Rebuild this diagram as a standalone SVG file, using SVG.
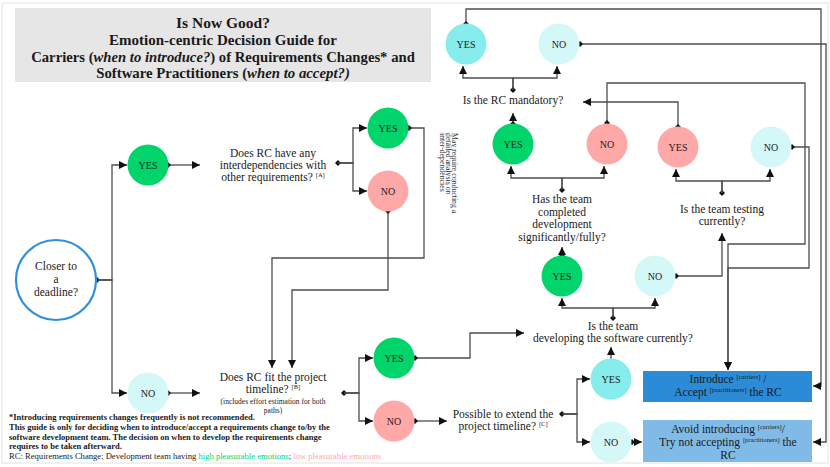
<svg xmlns="http://www.w3.org/2000/svg" width="830" height="467" viewBox="0 0 830 467">
<style>
text{font-family:"Liberation Serif","Times New Roman",serif;fill:#1a1a1a}
.q{font-size:11.5px;text-anchor:middle}
.n{font-size:10px;text-anchor:middle}
.t{font-weight:bold;text-anchor:middle}
.sm{font-size:7.5px;text-anchor:middle}
.sup{font-size:6.5px}
.note{font-size:8.5px;font-weight:bold}
.rot{font-size:7.8px;fill:#333}
.c{stroke:#4d4d4d;stroke-width:1.3;fill:none}
.g{fill:#00d46a}
.p{fill:#ffa8a8}
.cy{fill:#86ecec}
.lc{fill:#d4f7f7}
</style>
<defs>
<marker id="d" viewBox="0 0 8 8" refX="4" refY="4" markerWidth="6" markerHeight="6" markerUnits="userSpaceOnUse" orient="auto"><path d="M0,4 L4,0 L8,4 L4,8 Z" fill="#111"/></marker>
<marker id="a" viewBox="0 0 10 10" refX="10" refY="5" markerWidth="8" markerHeight="8" markerUnits="userSpaceOnUse" orient="auto"><path d="M0,0 L10,5 L0,10 Z" fill="#111"/></marker>
</defs>
<rect x="2" y="3" width="826" height="460" fill="#fff" stroke="#e2e2e2" stroke-width="1"/>

<g id="title">
<rect x="15" y="8" width="416" height="74" fill="#e6e6e6"/>
<text class="t" x="223" y="28" font-size="15.5">Is Now Good?</text>
<text class="t" x="223" y="45" font-size="15">Emotion-centric Decision Guide for</text>
<text class="t" x="223" y="62" font-size="14.7">Carriers (<tspan font-style="italic">when to introduce?</tspan>) of Requirements Changes* and</text>
<text class="t" x="223" y="78" font-size="14.8">Software Practitioners (<tspan font-style="italic">when to accept?)</tspan></text>
</g>

<g id="connectors">
<path class="c" d="M97,280 H112 V165 H127" marker-start="url(#d)" marker-end="url(#a)"/>
<path class="c" d="M97,280 H112 V393 H127" marker-end="url(#a)"/>
<path class="c" d="M168,165 H200" marker-start="url(#d)" marker-end="url(#a)"/>
<path class="c" d="M338,163 H353 V128 H367" marker-start="url(#d)" marker-end="url(#a)"/>
<path class="c" d="M338,163 H353 V191 H367" marker-end="url(#a)"/>
<path class="c" d="M409,128 H424 V258 H272 V368" marker-start="url(#d)" marker-end="url(#a)"/>
<path class="c" d="M388,211 V290 H292 V368" marker-start="url(#d)" marker-end="url(#a)"/>
<path class="c" d="M168,393 H200" marker-start="url(#d)" marker-end="url(#a)"/>
<path class="c" d="M344,393 H359 V358 H373" marker-start="url(#d)" marker-end="url(#a)"/>
<path class="c" d="M344,393 H359 V421 H373" marker-end="url(#a)"/>
<path class="c" d="M415,358 H470 V333 H524" marker-start="url(#d)" marker-end="url(#a)"/>
<path class="c" d="M415,421 H447" marker-start="url(#d)" marker-end="url(#a)"/>
<path class="c" d="M562,414 H577 V379 H590" marker-start="url(#d)" marker-end="url(#a)"/>
<path class="c" d="M562,414 H577 V442 H590" marker-end="url(#a)"/>
<path class="c" d="M611,359 V347" marker-end="url(#a)"/>
<path class="c" d="M632,442 H642" marker-start="url(#d)" marker-end="url(#a)"/>
<path class="c" d="M613,318 V308 H562 V298" marker-start="url(#d)" marker-end="url(#a)"/>
<path class="c" d="M613,318 V308 H655 V298" marker-end="url(#a)"/>
<path class="c" d="M562,256 V247" marker-start="url(#d)" marker-end="url(#a)"/>
<path class="c" d="M676,276 H722 V233" marker-start="url(#d)" marker-end="url(#a)"/>
<path class="c" d="M562,190 V178 H511 V166" marker-start="url(#d)" marker-end="url(#a)"/>
<path class="c" d="M562,190 V178 H604 V166" marker-end="url(#a)"/>
<path class="c" d="M513,124 V113" marker-start="url(#d)" marker-end="url(#a)"/>
<path class="c" d="M607,123 V83 H805 V244 H728 V370" marker-start="url(#d)" marker-end="url(#a)"/>
<path class="c" d="M722,193 V181 H676 V169" marker-start="url(#d)" marker-end="url(#a)"/>
<path class="c" d="M722,193 V181 H770 V169" marker-end="url(#a)"/>
<path class="c" d="M678,127 V102 H583" marker-start="url(#d)" marker-end="url(#a)"/>
<path class="c" d="M792,147 H809 V268 H728 V370" marker-start="url(#d)" marker-end="url(#a)"/>
<path class="c" d="M513,90 V78 H463 V66" marker-start="url(#d)" marker-end="url(#a)"/>
<path class="c" d="M513,90 V78 H557 V66" marker-end="url(#a)"/>
<path class="c" d="M466,24 V9 H821 V386 H813" marker-start="url(#d)" marker-end="url(#a)"/>
<path class="c" d="M580,44 H826 V442 H813" marker-start="url(#d)" marker-end="url(#a)"/>
</g>

<g id="closer">
<circle cx="56" cy="280" r="40" fill="#fff" stroke="#2f8fdb" stroke-width="2.2"/>
<text class="q" x="56" y="270">Closer to</text>
<text class="q" x="56" y="283">a</text>
<text class="q" x="56" y="296">deadline?</text>
</g>
<g id="yes1"><circle cx="148" cy="165" r="20.5" class="g"/><text class="n" x="148" y="168.5">YES</text></g>
<g id="no1"><circle cx="148" cy="393" r="20.5" class="lc"/><text class="n" x="148" y="396.5">NO</text></g>

<g id="qa">
<text class="q" x="273" y="157">Does RC have any</text>
<text class="q" x="273" y="169">interdependencies with</text>
<text class="q" x="273" y="181">other requirements? <tspan class="sup" dy="-4">[A]</tspan></text>
</g>
<g id="yes2"><circle cx="388" cy="128" r="20.5" class="g"/><text class="n" x="388" y="131.5">YES</text></g>
<g id="no2"><circle cx="388" cy="191" r="20.5" class="p"/><text class="n" x="388" y="194.5">NO</text></g>
<g id="note-a">
<text class="rot" transform="translate(452,133) rotate(90)">May require conducting a</text>
<text class="rot" transform="translate(446,133) rotate(90)">detailed analysis on</text>
<text class="rot" transform="translate(440,133) rotate(90)">inter-dependencies</text>
</g>

<g id="qb">
<text class="q" x="273" y="381">Does RC fit the project</text>
<text class="q" x="273" y="393">timeline? <tspan class="sup" dy="-4">[B]</tspan></text>
<text class="sm" x="273" y="404">(includes effort estimation for both</text>
<text class="sm" x="273" y="413">paths)</text>
</g>
<g id="yes3"><circle cx="394" cy="358" r="20.5" class="g"/><text class="n" x="394" y="361.5">YES</text></g>
<g id="no3"><circle cx="394" cy="421" r="20.5" class="p"/><text class="n" x="394" y="424.5">NO</text></g>

<g id="qc">
<text class="q" x="503" y="418">Possible to extend the</text>
<text class="q" x="503" y="430">project timeline? <tspan class="sup" dy="-4">[C]</tspan></text>
</g>
<g id="yes4"><circle cx="611" cy="379" r="20.5" class="cy"/><text class="n" x="611" y="382.5">YES</text></g>
<g id="no4"><circle cx="611" cy="442" r="20.5" class="lc"/><text class="n" x="611" y="445.5">NO</text></g>

<g id="qdev">
<text class="q" x="613" y="330">Is the team</text>
<text class="q" x="613" y="342">developing the software currently?</text>
</g>
<g id="yes8"><circle cx="562" cy="276" r="20.5" class="g"/><text class="n" x="562" y="279.5">YES</text></g>
<g id="no5"><circle cx="655" cy="276" r="20.5" class="lc"/><text class="n" x="655" y="279.5">NO</text></g>

<g id="qcompleted">
<text class="q" x="562" y="203">Has the team</text>
<text class="q" x="562" y="215.5">completed</text>
<text class="q" x="562" y="228">development</text>
<text class="q" x="562" y="240.5">significantly/fully?</text>
</g>
<g id="yes5"><circle cx="513" cy="144" r="20.5" class="g"/><text class="n" x="513" y="147.5">YES</text></g>
<g id="no6"><circle cx="607" cy="144" r="20.5" class="p"/><text class="n" x="607" y="147.5">NO</text></g>

<g id="qtesting">
<text class="q" x="722" y="213">Is the team testing</text>
<text class="q" x="722" y="225">currently?</text>
</g>
<g id="yes6"><circle cx="678" cy="147" r="20.5" class="p"/><text class="n" x="678" y="150.5">YES</text></g>
<g id="no7"><circle cx="771" cy="147" r="20.5" class="lc"/><text class="n" x="771" y="150.5">NO</text></g>

<g id="qmand">
<text class="q" x="513" y="104">Is the RC mandatory?</text>
</g>
<g id="yes-top"><circle cx="466" cy="44" r="20.5" class="cy"/><text class="n" x="466" y="47.5">YES</text></g>
<g id="no-top"><circle cx="559" cy="44" r="20.5" class="lc"/><text class="n" x="559" y="47.5">NO</text></g>

<g id="introduce">
<rect x="643" y="371" width="169" height="31" fill="#2b8bd6"/>
<text class="q" x="728" y="383" font-size="12">Introduce <tspan class="sup" dy="-4">[carriers]</tspan><tspan dy="4"> /</tspan></text>
<text class="q" x="728" y="396" font-size="12">Accept <tspan class="sup" dy="-4">[practitioners]</tspan><tspan dy="4"> the RC</tspan></text>
</g>
<g id="avoid">
<rect x="643" y="420" width="169" height="42" fill="#80bbe7"/>
<text class="q" x="728" y="433" font-size="12">Avoid introducing <tspan class="sup" dy="-4">[carriers]</tspan><tspan dy="4">/</tspan></text>
<text class="q" x="728" y="446" font-size="12">Try not accepting <tspan class="sup" dy="-4">[practitioners]</tspan><tspan dy="4"> the</tspan></text>
<text class="q" x="728" y="459" font-size="12">RC</text>
</g>

<g id="notes">
<text class="note" x="9" y="420">*Introducing requirements changes frequently is not recommended.</text>
<text class="note" x="9" y="430">This guide is only for deciding when to introduce/accept a requirements change to/by the</text>
<text class="note" x="9" y="439.5">software development team. The decision on when to develop the requirements change</text>
<text class="note" x="9" y="449">requires to be taken afterward.</text>
<text x="9" y="459" font-size="8.6">RC: Requirements Change; Development team having <tspan fill="#00d46a">high pleasurable emotions</tspan>; <tspan fill="#ffa8a8">low pleasurable emotions</tspan></text>
</g>
</svg>
